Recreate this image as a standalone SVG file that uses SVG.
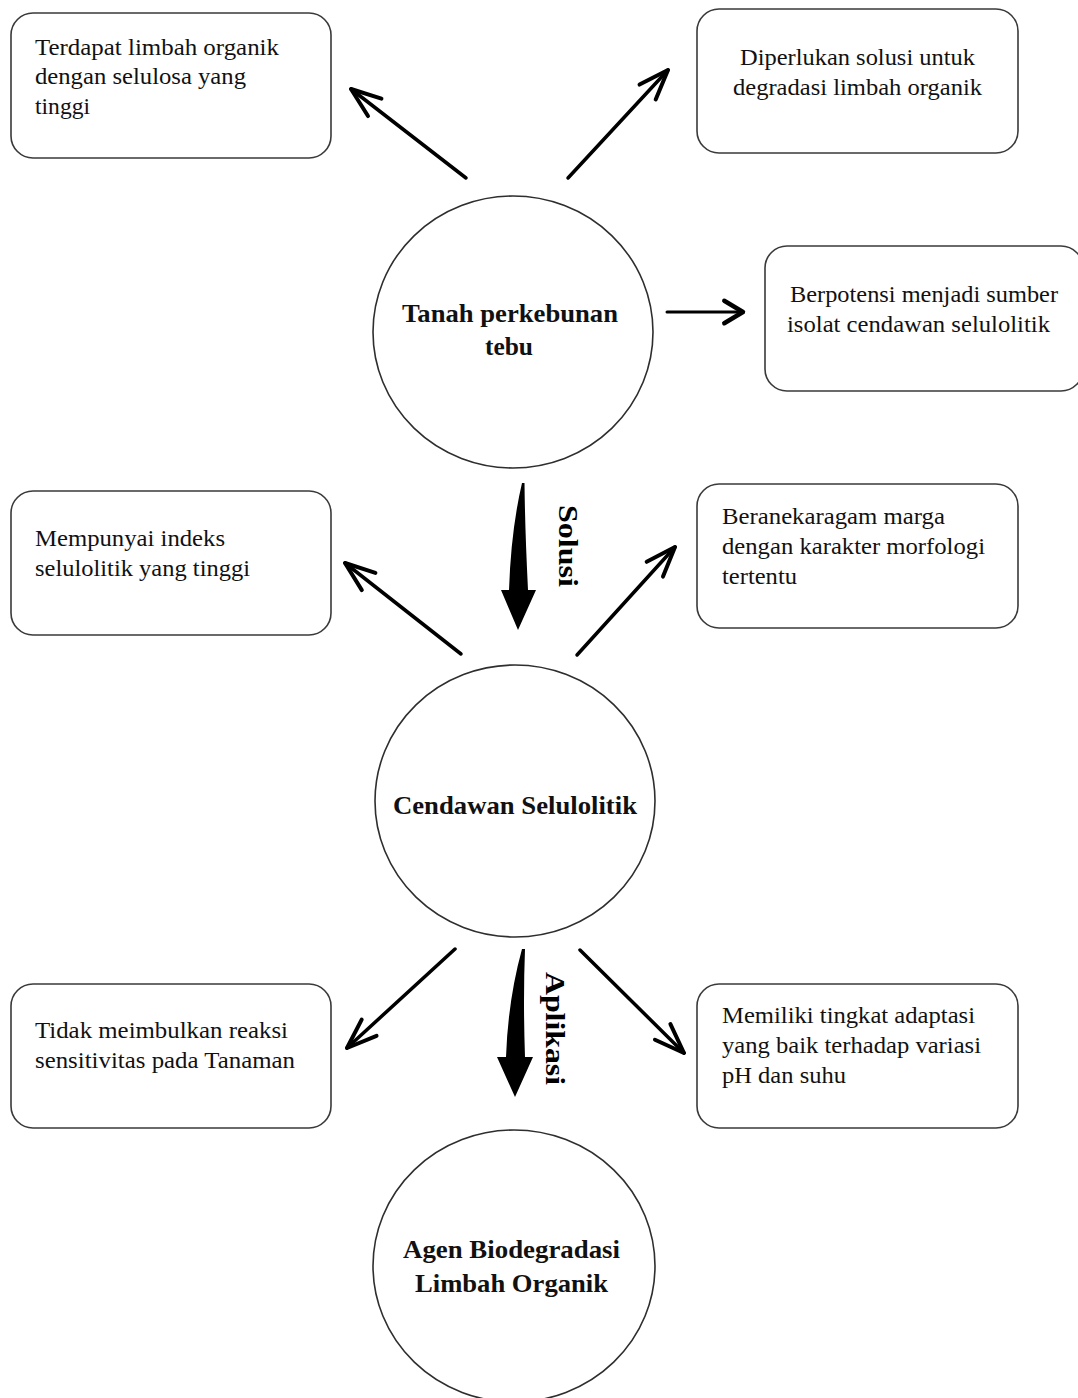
<svg xmlns="http://www.w3.org/2000/svg" width="1078" height="1398" viewBox="0 0 1078 1398">
<style>
.box{fill:#fff;stroke:#3a3a3a;stroke-width:1.6}
.circ{fill:#fff;stroke:#2e2e2e;stroke-width:1.6}
.t{font-family:"Liberation Serif","Times New Roman",serif;font-size:23px;fill:#111}
.b{font-family:"Liberation Serif","Times New Roman",serif;font-size:26px;font-weight:bold;fill:#111}
.lbl{font-family:"Liberation Serif","Times New Roman",serif;font-size:28px;font-weight:bold;fill:#000}
.arr{fill:none;stroke:#000;stroke-width:3.5;stroke-linecap:round}
.arr2{fill:none;stroke:#000;stroke-width:3;stroke-linecap:round}
</style>
<defs>
<marker id="head" markerUnits="userSpaceOnUse" orient="auto" refX="0" refY="0" markerWidth="40" markerHeight="40" viewBox="-36 -18 40 36" overflow="visible">
<path d="M-30,-11 L0,0 L-30,11" fill="none" stroke="#000" stroke-width="4" stroke-linecap="round" stroke-linejoin="round"/>
</marker>
<marker id="headS" markerUnits="userSpaceOnUse" orient="auto" refX="0" refY="0" markerWidth="30" markerHeight="30" viewBox="-20 -12 24 24" overflow="visible">
<path d="M-15,-9 L0,0 L-15,9" fill="none" stroke="#000" stroke-width="3.5" stroke-linecap="round" stroke-linejoin="round"/>
</marker>
</defs>
<rect width="1078" height="1398" fill="#fff"/>

<g id="connectors">
<line class="arr" x1="466" y1="178" x2="351" y2="89" marker-end="url(#head)"/>
<line class="arr" x1="568" y1="178" x2="668" y2="70" marker-end="url(#head)"/>
<line class="arr2" x1="667" y1="312" x2="743" y2="312" marker-end="url(#headS)"/>
<line class="arr" x1="461" y1="654" x2="345" y2="563" marker-end="url(#head)"/>
<line class="arr" x1="577" y1="655" x2="675" y2="547" marker-end="url(#head)"/>
<line class="arr" x1="455" y1="949" x2="347" y2="1048" marker-end="url(#head)"/>
<line class="arr" x1="580" y1="950" x2="684" y2="1053" marker-end="url(#head)"/>
<path id="solusi-arrow" d="M522,483 Q511,530 509,590 L501,590 L518,630 L536,590 L528,590 Q525,530 524.5,483 Z" fill="#000"/>
<path id="aplikasi-arrow" d="M522,949 Q508,1000 506,1057 L497,1057 L515,1097 L533,1057 L525,1057 Q523,1000 525,949 Z" fill="#000"/>
<text class="lbl" transform="translate(559,505) rotate(90)" textLength="82" lengthAdjust="spacingAndGlyphs">Solusi</text>
<text class="lbl" transform="translate(546,972) rotate(90)" textLength="113" lengthAdjust="spacingAndGlyphs">Aplikasi</text>
</g>

<g id="node-tanah">
<ellipse class="circ" cx="513" cy="332" rx="140" ry="136"/>
<text class="b" x="402" y="322" textLength="216" lengthAdjust="spacingAndGlyphs">Tanah perkebunan</text>
<text class="b" x="485" y="355" textLength="48" lengthAdjust="spacingAndGlyphs">tebu</text>
</g>

<g id="node-cendawan">
<ellipse class="circ" cx="515" cy="801" rx="140" ry="136"/>
<text class="b" x="393" y="814" textLength="244" lengthAdjust="spacingAndGlyphs">Cendawan Selulolitik</text>
</g>

<g id="node-agen">
<ellipse class="circ" cx="514" cy="1266" rx="141" ry="136"/>
<text class="b" x="403" y="1258" textLength="217" lengthAdjust="spacingAndGlyphs">Agen Biodegradasi</text>
<text class="b" x="415" y="1292" textLength="193" lengthAdjust="spacingAndGlyphs">Limbah Organik</text>
</g>

<g id="box-terdapat">
<rect class="box" x="11" y="13" width="320" height="145" rx="22"/>
<text class="t" x="35" y="55" textLength="244" lengthAdjust="spacingAndGlyphs">Terdapat limbah organik</text>
<text class="t" x="35" y="84" textLength="211" lengthAdjust="spacingAndGlyphs">dengan selulosa yang</text>
<text class="t" x="35" y="114" textLength="55" lengthAdjust="spacingAndGlyphs">tinggi</text>
</g>

<g id="box-diperlukan">
<rect class="box" x="697" y="9" width="321" height="144" rx="22"/>
<text class="t" x="740" y="65" textLength="235" lengthAdjust="spacingAndGlyphs">Diperlukan solusi untuk</text>
<text class="t" x="733" y="95" textLength="249" lengthAdjust="spacingAndGlyphs">degradasi limbah organik</text>
</g>

<g id="box-berpotensi">
<rect class="box" x="765" y="246" width="318" height="145" rx="22"/>
<text class="t" x="790" y="302" textLength="268" lengthAdjust="spacingAndGlyphs">Berpotensi menjadi sumber</text>
<text class="t" x="787" y="332" textLength="263" lengthAdjust="spacingAndGlyphs">isolat cendawan selulolitik</text>
</g>

<g id="box-mempunyai">
<rect class="box" x="11" y="491" width="320" height="144" rx="22"/>
<text class="t" x="35" y="546" textLength="190" lengthAdjust="spacingAndGlyphs">Mempunyai indeks</text>
<text class="t" x="35" y="576" textLength="215" lengthAdjust="spacingAndGlyphs">selulolitik yang tinggi</text>
</g>

<g id="box-beranekaragam">
<rect class="box" x="697" y="484" width="321" height="144" rx="22"/>
<text class="t" x="722" y="524" textLength="223" lengthAdjust="spacingAndGlyphs">Beranekaragam marga</text>
<text class="t" x="722" y="554" textLength="263" lengthAdjust="spacingAndGlyphs">dengan karakter morfologi</text>
<text class="t" x="722" y="584" textLength="75" lengthAdjust="spacingAndGlyphs">tertentu</text>
</g>

<g id="box-tidak">
<rect class="box" x="11" y="984" width="320" height="144" rx="22"/>
<text class="t" x="35" y="1038" textLength="253" lengthAdjust="spacingAndGlyphs">Tidak meimbulkan reaksi</text>
<text class="t" x="35" y="1068" textLength="260" lengthAdjust="spacingAndGlyphs">sensitivitas pada Tanaman</text>
</g>

<g id="box-memiliki">
<rect class="box" x="697" y="984" width="321" height="144" rx="22"/>
<text class="t" x="722" y="1023" textLength="253" lengthAdjust="spacingAndGlyphs">Memiliki tingkat adaptasi</text>
<text class="t" x="722" y="1053" textLength="259" lengthAdjust="spacingAndGlyphs">yang baik terhadap variasi</text>
<text class="t" x="722" y="1083" textLength="124" lengthAdjust="spacingAndGlyphs">pH dan suhu</text>
</g>
</svg>
